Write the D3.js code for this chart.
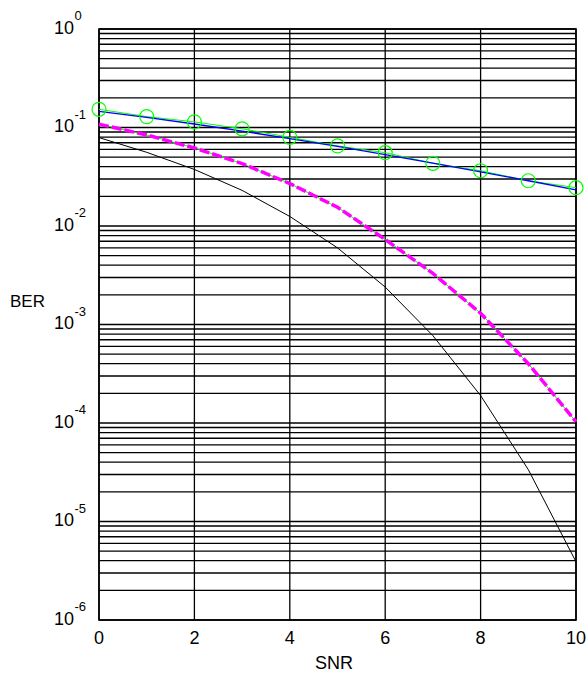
<!DOCTYPE html>
<html>
<head>
<meta charset="utf-8">
<script src="https://cdn.jsdelivr.net/npm/d3@7"></script>
<style>
body { margin: 0; background: #fff; }
text { font-family: "Liberation Sans", Arial, sans-serif; fill: #000; }
</style>
</head>
<body>
<svg id="chart" width="588" height="675"></svg>
<script>
const snr = [0, 1, 2, 3, 4, 5, 6, 7, 8, 9, 10];
const berTheory = [0.146, 0.127, 0.1085, 0.0919, 0.0771, 0.0642, 0.053, 0.0435, 0.0355, 0.0288, 0.0233];
const berSim = [0.153, 0.129, 0.114, 0.097, 0.0795, 0.065, 0.0555, 0.0433, 0.0364, 0.0288, 0.0245];
const berDashed = [0.108, 0.084, 0.062, 0.043, 0.027, 0.0155, 0.0073, 0.0033, 0.0013, 0.0004, 0.000103];
const berAwgn = [0.079, 0.056, 0.0375, 0.023, 0.0125, 0.006, 0.0024, 0.00077, 0.00019, 0.0000336, 0.0000039];
const xTicks = [0, 2, 4, 6, 8, 10];
const yDecades = [0, -1, -2, -3, -4, -5, -6];

const plotLeft = 99, plotRight = 576, plotTop = 29, plotBottom = 620;

const svg = d3.select("#chart");
const x = d3.scaleLinear().domain([0, 10]).range([plotLeft, plotRight]);
const y = d3.scaleLog().domain([1e-6, 1]).range([plotBottom, plotTop]);

//----- grid -----
const grid = svg.append("g").attr("stroke", "#000").attr("stroke-width", 1.3);
grid.selectAll("line.h")
    .data(y.ticks())
    .join("line")
    .attr("class", "h")
    .attr("x1", plotLeft).attr("x2", plotRight)
    .attr("y1", d => y(d)).attr("y2", d => y(d));
grid.selectAll("line.v")
    .data(xTicks)
    .join("line")
    .attr("class", "v")
    .attr("x1", d => x(d)).attr("x2", d => x(d))
    .attr("y1", plotTop).attr("y2", plotBottom);

svg.append("rect")
    .attr("x", plotLeft).attr("y", plotTop)
    .attr("width", plotRight - plotLeft).attr("height", plotBottom - plotTop)
    .attr("fill", "none").attr("stroke", "#000").attr("stroke-width", 1.6);

//----- curves -----
const line = d3.line().x((d, i) => x(snr[i])).y(d => y(d));

svg.append("path").datum(berAwgn).attr("d", line)
    .attr("fill", "none").attr("stroke", "#000").attr("stroke-width", 1);

svg.append("path").datum(berDashed).attr("d", line)
    .attr("fill", "none").attr("stroke", "#00ff00").attr("stroke-width", 1);
svg.append("path").datum(berDashed).attr("d", line)
    .attr("fill", "none").attr("stroke", "#ff00ff").attr("stroke-width", 3.5)
    .attr("stroke-dasharray", "10,3");

svg.append("path").datum(berSim).attr("d", line)
    .attr("fill", "none").attr("stroke", "#00ff00").attr("stroke-width", 1);
svg.append("path").datum(berTheory).attr("d", line)
    .attr("fill", "none").attr("stroke", "#0000ff").attr("stroke-width", 1.3);

svg.append("g").selectAll("circle")
    .data(berSim)
    .join("circle")
    .attr("cx", (d, i) => x(snr[i]))
    .attr("cy", d => y(d))
    .attr("r", 7)
    .attr("fill", "none")
    .attr("stroke", "#00ff00")
    .attr("stroke-width", 1.2);

//----- tick labels -----
svg.append("g").selectAll("text")
    .data(xTicks)
    .join("text")
    .attr("x", d => x(d))
    .attr("y", 644)
    .attr("text-anchor", "middle")
    .attr("font-size", 18)
    .text(d => d);

const yLab = svg.append("g").selectAll("g")
    .data(yDecades)
    .join("g")
    .attr("transform", d => `translate(0, ${y(Math.pow(10, d))})`);
yLab.append("text")
    .attr("x", 74).attr("y", 4.5)
    .attr("text-anchor", "end")
    .attr("font-size", 18)
    .text("10");
yLab.append("text")
    .attr("x", 74.5).attr("y", -9)
    .attr("font-size", 13)
    .text(d => d);

svg.append("text")
    .attr("x", 10).attr("y", 307)
    .attr("font-size", 17)
    .text("BER");
svg.append("text")
    .attr("x", 334).attr("y", 669)
    .attr("text-anchor", "middle")
    .attr("font-size", 18)
    .text("SNR");
</script>
</body>
</html>
